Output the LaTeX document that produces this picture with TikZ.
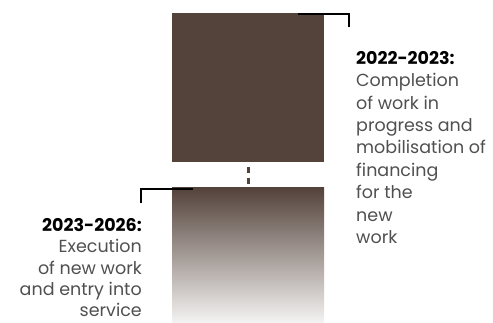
\documentclass[tikz,border=0pt]{standalone}
\usepackage{fontspec}
\setmainfont{Poppins}
\definecolor{brownbox}{HTML}{54433B}
\definecolor{textgrey}{HTML}{505050}
\begin{document}
\begin{tikzpicture}[x=1pt,y=-1pt,
  bracket/.style={line width=2pt, black},
  label/.style={inner sep=0pt, font=\fontsize{17.5}{22.4}\selectfont, text=textgrey}]
\useasboundingbox (0,0) rectangle (493,323);
% top square
\fill[brownbox] (172,13) rectangle (324,162);
\node[inner sep=0pt, minimum width=152pt, minimum height=149pt] (top) at (248,87.5) {};
% bottom gradient box
\shade[top color=brownbox, bottom color=brownbox!6] (172,188) rectangle (324,323);
\node[inner sep=0pt, minimum width=152pt, minimum height=135pt] (bot) at (248,255.5) {};
% dashed connector
\draw[brownbox, line width=3pt, dash pattern=on 6pt off 5pt] (top.south) ++(0,5) coordinate (c1) -- (bot.north);
% brackets
\coordinate (tb1) at (298,14);
\coordinate (tb2) at (349,14);
\coordinate (tb3) at (349,27);
\draw[bracket] (tb1) -- (tb2) -- (tb3);
\coordinate (bb1) at (193,189);
\coordinate (bb2) at (141,189);
\coordinate (bb3) at (141,203);
\draw[bracket] (bb1) -- (bb2) -- (bb3);
% texts
\node[label, anchor=north west, align=left] (t1) at (356,51) {{\bfseries\color{black}2022-2023:}\\Completion\\of work in\\progress and\\mobilisation of\\financing\\for the\\new\\work};
\node[label, font=\fontsize{17.5}{21.4}\selectfont, anchor=north east, align=right] (t2) at (142,218) {{\bfseries\color{black}2023-2026:}\\Execution\\of new work\\and entry into\\service};
\end{tikzpicture}
\end{document}
